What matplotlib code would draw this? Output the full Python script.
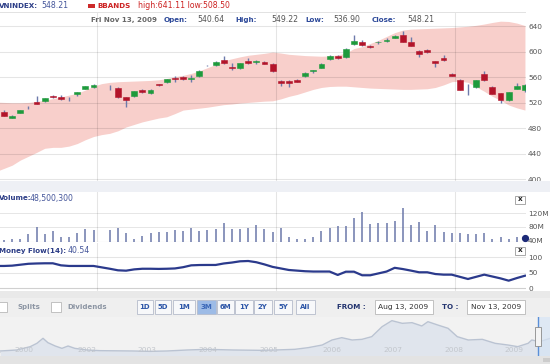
import matplotlib
matplotlib.use("Agg")
import matplotlib.pyplot as plt
import matplotlib.transforms as mtransforms
from matplotlib.patches import Rectangle
import numpy as np
import pandas as pd

W, H = 550, 364
nan = np.nan

# one weekday slot per bar, as the widget lays them out (its dates sit one day early)
slot_dates = pd.bdate_range("2009-08-13", "2009-11-12")
month_labels = ["2009", "Oct", "Nov"]

opens = [nan, 504.9, 496.5, 504.3, 511.5, 521.6, 522.2, 531.0, 529.4, 525.5, 533.2, 541.5, 544.2, nan,
         546.0, 543.1, 528.9, 530.0, 539.9, 535.2, 548.9, 552.0, 559.5, 560.3, 558.0, 561.4, 578.0, 578.7,
         586.5, 576.0, 574.0, 585.9, 584.5, 584.3, 580.7, 553.6, 553.6, 555.1, 561.4, 569.6, 574.9, 588.1,
         593.7, 591.2, 612.1, 615.7, 609.4, 614.6, 617.5, 621.5, 626.0, 614.7, 601.6, 603.1, 584.9, 590.6,
         565.5, 556.1, 541.0, 545.1, 565.0, 544.6, 534.7, 524.7, 541.5, 540.64]
highs = [nan, 508.1, 500.0, 509.0, 514.4, 530.0, 528.0, 532.0, 532.6, 528.9, 537.0, 546.5, 549.8, nan,
         548.2, 544.0, 529.5, 538.5, 541.5, 541.0, 549.5, 558.0, 562.4, 561.5, 563.9, 571.0, 579.6, 585.0,
         593.7, 582.3, 583.0, 590.1, 587.5, 585.5, 582.0, 556.1, 556.0, 556.5, 568.5, 571.3, 582.0, 595.0,
         595.0, 605.5, 625.7, 618.4, 611.0, 617.3, 621.5, 626.0, 633.0, 622.6, 602.0, 604.5, 585.5, 595.3,
         566.5, 557.0, 549.3, 556.0, 569.7, 546.0, 535.0, 537.5, 550.4, 549.22]
lows = [nan, 499.0, 495.5, 503.5, 509.6, 518.0, 521.0, 528.0, 525.0, 522.7, 531.0, 541.0, 542.6, nan,
        539.5, 528.0, 512.8, 529.5, 536.0, 534.5, 547.0, 551.0, 552.0, 556.0, 552.5, 561.0, 577.1, 578.0,
        581.0, 571.8, 573.5, 581.0, 581.2, 580.5, 569.0, 545.7, 545.0, 552.0, 560.5, 566.0, 574.0, 587.0,
        588.5, 590.5, 611.0, 609.0, 606.0, 612.0, 615.2, 621.0, 615.0, 609.0, 591.2, 597.5, 575.5, 585.5,
        562.0, 539.5, 532.6, 543.0, 554.5, 533.5, 520.0, 522.0, 541.0, 536.90]
closes = [nan, 499.6, 499.1, 508.1, 511.5, 518.4, 527.4, 528.5, 525.8, 525.5, 536.3, 545.7, 547.8, nan,
          546.0, 528.5, 524.7, 537.9, 536.8, 539.9, 547.3, 557.2, 557.5, 556.7, 559.2, 570.2, 578.0, 583.4,
          581.8, 574.4, 582.3, 581.8, 585.3, 581.2, 569.3, 551.4, 550.9, 552.9, 566.6, 570.6, 581.2, 593.7,
          589.6, 604.7, 617.3, 610.0, 606.9, 615.7, 618.5, 625.1, 615.5, 609.4, 596.9, 599.5, 581.8, 586.5,
          562.4, 539.9, 541.0, 555.1, 555.1, 534.1, 524.2, 536.8, 545.7, 548.21]
bb_upper = [521, 520.5, 520, 520, 520.5, 522, 524, 526.5, 529, 532, 535, 540, 546, 550, 552, 553, 553.5,
            554, 554.5, 555, 556, 558, 561, 563, 566, 570, 575, 580, 586, 589, 592, 594.5, 596, 597.5,
            599.5, 598, 596, 595, 594, 593.5, 593, 593.5, 595, 598, 605, 608, 613, 618, 624, 630, 634,
            635.5, 636, 636.5, 637, 637.5, 638, 639, 640, 641.5, 643.5, 646, 648, 647.5, 645, 641.1]
bb_lower = [412, 417, 422, 430, 436, 442, 448.5, 450, 450, 452, 456, 462, 467, 470, 472, 476, 482, 486,
            490, 493, 496, 498, 503, 508.5, 510, 511.5, 513, 515, 517, 518, 519.5, 520.5, 521.5, 522.5,
            523, 526, 530, 533, 537, 541, 544, 545.5, 546, 546, 545, 544, 543, 542.5, 542, 541.5, 541,
            541, 541.5, 542, 544, 548, 553, 554, 552, 545, 538, 530, 524, 516.5, 512, 508.5]
# volume in millions
volume = [nan, 42, 44, 45, 59.6, 81, 58.7, 69, 50, 51.7, 61.6, 73.3, 71.2, nan, 71.2, 78, 61.6, 45, 54.6,
          61.6, 64.5, 66.3, 71.2, 68.3, 76.2, 69, 71.2, 74.2, 90.8, 73.3, 74.2, 76.2, 85.8, 73.3, 66.3,
          76.2, 50, 44, 44, 51.7, 68.3, 76.2, 83.8, 83.8, 105.4, 122.9, 88.8, 90.8, 92.6, 97.5, 136.4,
          85.8, 93.5, 68.3, 85.8, 66.3, 61.6, 61.6, 59.6, 58.7, 61.6, 45, 50, 45, 51.7, 48.5]
money_flow = [72, 72, 73, 76, 79, 80, 80.6, 80.6, 74, 72, 72, 72, 72, nan, 63, 58, 56.8, 61, 63, 63,
              62.5, 63, 64, 68, 74, 75, 75.2, 75.2, 80, 83, 87, 88, 84, 77, 69, 64, 59, 57, 55, 54, 54,
              54, 43, 53.5, 53.5, 42, 42, 48, 54, 66, 62, 57, 51.6, 51.6, 46, 44, 44, 37, 30, 37, 44, 38,
              32, 24.6, 33, 40.54]
price_ticks = [400, 440, 480, 520, 560, 600, 640]
vol_ticks = [40, 80, 120]
vol_labels = ["40M", "80M", "120M"]
mf_ticks = [0, 50, 100]

# navigator (whole history)
nav_years = [2000.78, 2001.05, 2001.27, 2001.38, 2001.48, 2001.56, 2001.68, 2001.79, 2001.89, 2002.0,
             2002.2, 2002.41, 2002.95, 2003.23, 2003.51, 2003.84, 2004.16, 2004.59, 2005.03, 2005.28,
             2005.6, 2005.82, 2006.05, 2006.21, 2006.37, 2006.54, 2006.7, 2006.86, 2007.03, 2007.19,
             2007.36, 2007.52, 2007.68, 2007.78, 2007.94, 2008.11, 2008.26, 2008.44, 2008.67, 2008.88,
             2009.09, 2009.25, 2009.42, 2009.48, 2009.61, 2009.78]
nav_values = [167, 200, 310, 422, 589, 444, 333, 255, 333, 255, 200, 178, 167, 155, 167, 200, 222, 200,
              189, 200, 222, 278, 366, 533, 611, 533, 555, 644, 977, 1177, 1088, 1110, 1000, 1143, 1033,
              922, 644, 533, 555, 422, 366, 311, 422, 533, 477, 588]
nav_label_pos = [2001.02, 2002.05, 2003.03, 2004.03, 2005.03, 2006.06, 2007.05, 2008.05, 2009.04]
nav_labels = ["2000", "2002", "2003", "2004", "2005", "2006", "2007", "2008", "2009"]
range_buttons = ["1D", "5D", "1M", "3M", "6M", "1Y", "2Y", "5Y", "All"]

o, hi, lo, c = (np.array(a, dtype=float) for a in (opens, highs, lows, closes))
up_b, lo_b = np.array(bb_upper), np.array(bb_lower)
vol = np.array(volume, dtype=float)
mf = np.array(money_flow, dtype=float)
x = np.arange(len(slot_dates))
month_idx = [i for i in range(1, len(slot_dates)) if slot_dates[i].month != slot_dates[i - 1].month]
month_pos = [i - 0.6 for i in month_idx]
XLIM = (0.51, 65.13)

fig = plt.figure(figsize=(W / 100, H / 100), dpi=100)
fig.patch.set_facecolor("white")


def px_axes(x0, y0, x1, y1, **kw):
    ax = fig.add_axes([x0 / W, 1 - y1 / H, (x1 - x0) / W, (y1 - y0) / H], **kw)
    for s in ax.spines.values():
        s.set_visible(False)
    return ax


def px_text(xp, yp, s, **kw):
    kw.setdefault("va", "center")
    kw.setdefault("ha", "left")
    return fig.text(xp / W, 1 - yp / H, s, **kw)


def px_rect(x0, y0, x1, y1, **kw):
    kw.setdefault("lw", 0)
    fig.patches.append(Rectangle((x0 / W, 1 - y1 / H), (x1 - x0) / W, (y1 - y0) / H,
                                 transform=fig.transFigure, **kw))


NAVY = "#2b3c86"
GRID = (0, 0, 0, 0.10)
LBL = "#555555"

# header strip
px_rect(0, 12, 526, 12.7, fc="#e2e2e2")
px_text(-1, 5.5, "VNINDEX:", fontsize=5.1, fontweight="bold", color=NAVY)
px_text(41, 5.5, "548.21", fontsize=5.6, color="#44559a")
px_rect(88, 3.5, 95, 7.5, fc="#cc2a2a")
px_text(97, 5.5, "BBANDS", fontsize=5.1, fontweight="bold", color="#cc2222")
px_text(138, 5.5, "high:641.11 low:508.50", fontsize=5.6, color="#cc2222")

# price panel
axp = px_axes(0, 12.7, 526, 181)
axp.set_xlim(*XLIM)
axp.set_ylim(397.2, 661.3)
axp.fill_between(x, lo_b, up_b, color="#f8cfcb", lw=0, zorder=1)
for v in price_ticks:
    axp.axhline(v, color=GRID, lw=0.8, zorder=2)
for m in month_pos:
    axp.axvline(m, color=GRID, lw=0.8, zorder=2)
axp.vlines(x, lo, hi, color="#6d7aab", lw=1.0, zorder=3)
body = ~np.isnan(o) & (o != c)
bot = np.minimum(o, c)[body]
hgt = np.maximum(np.abs(c - o)[body], 1.4)
cols = np.where(c[body] > o[body], "#1e9b3c", "#b3142a")
axp.bar(x[body], hgt, bottom=bot, width=0.72, color=cols, edgecolor=cols, lw=0.4, zorder=4)
axp.yaxis.tick_right()
axp.set_yticks(price_ticks)
axp.tick_params(axis="y", length=0, pad=1.5, labelsize=5.3, labelcolor=LBL)
axp.set_xticks([])
for lab, xp, yp in [("Fri Nov 13, 2009", 90.7, 20), ("Open:", 164, 20), ("High:", 235.7, 20),
                    ("Low:", 305, 20), ("Close:", 371.7, 20)]:
    px_text(xp, yp, lab, fontsize=5.1, fontweight="bold",
            color="#666666" if lab.startswith("Fri") else "#2e4a9a")
for lab, xp in [("540.64", 197.7), ("549.22", 271.7), ("536.90", 333.3), ("548.21", 407.3)]:
    px_text(xp, 20, lab, fontsize=5.6, color="#555555")

# date band
px_rect(0, 181, 550, 191.5, fc="#eef0f5")
tb = mtransforms.blended_transform_factory(axp.transData, axp.transAxes)
for m, lab in zip(month_pos, month_labels):
    axp.text(m + 0.25, -0.033, lab, transform=tb, fontsize=5.4, color="#444444",
             va="center", ha="left", clip_on=False)

# volume panel
axv = px_axes(0, 192, 526, 242)
axv.set_xlim(*XLIM)
axv.set_ylim(36.2, 182)
for v in vol_ticks[1:]:
    axv.axhline(v, color=GRID, lw=0.7, zorder=1)
axv.axhline(36.6, color="#d0d0d0", lw=0.8, zorder=1)
for m in month_pos:
    axv.axvline(m, color=GRID, lw=0.8, zorder=1)
ok = ~np.isnan(vol)
axv.vlines(x[ok], 0, vol[ok], color="#6b78aa", lw=1.1, zorder=2)
axv.plot(x[-1], vol[-1], "o", color="#1d2a78", ms=4.2, zorder=3, clip_on=False)
axv.yaxis.tick_right()
axv.set_yticks(vol_ticks, vol_labels)
axv.tick_params(axis="y", length=0, pad=1.5, labelsize=5.3, labelcolor=LBL)
axv.set_xticks([])
px_text(-1, 198.3, "Volume:", fontsize=5.1, fontweight="bold", color=NAVY)
px_text(30, 198.3, "48,500,300", fontsize=5.6, color="#44559a")

# money flow panel
axm = px_axes(0, 243, 526, 291)
axm.set_xlim(*XLIM)
axm.set_ylim(-8.7, 146)
for v in mf_ticks:
    axm.axhline(v, color=GRID if v else "#d0d0d0", lw=0.8, zorder=1)
for m in month_pos:
    axm.axvline(m, color=GRID, lw=0.8, zorder=1)
ok = ~np.isnan(mf)
axm.plot(x[ok], mf[ok], color="#2b3a8c", lw=1.6, zorder=2)
axm.yaxis.tick_right()
axm.set_yticks(mf_ticks)
axm.tick_params(axis="y", length=0, pad=1.5, labelsize=5.3, labelcolor=LBL)
axm.set_xticks([])
px_text(-1, 250.7, "Money Flow(14):", fontsize=5.1, fontweight="bold", color=NAVY)
px_text(68, 250.7, "40.54", fontsize=5.6, color="#44559a")

for y0 in (195.5, 246.5):
    px_rect(515, y0, 525, y0 + 8, fc="white", ec="#9a9a9a", lw=0.6)
    px_text(520, y0 + 3.8, "x", fontsize=5.2, fontweight="bold", color="#222222", ha="center")

# controls row
px_rect(0, 291, 550, 298, fc="#e9e9e9")
px_rect(0, 298, 550, 317, fc="#efefef")
for x0 in (-3, 51):
    px_rect(x0, 302, x0 + 10, 312, fc="white", ec="#b8b8b8", lw=0.6)
px_text(17, 307, "Splits", fontsize=5.0, fontweight="bold", color="#8c95a3")
px_text(67, 307, "Dividends", fontsize=5.0, fontweight="bold", color="#8c95a3")
btn_left = [137, 154.5, 173, 196.5, 216.5, 235, 254, 273.5, 295.5]
btn_right = [152.5, 171, 194.5, 215.5, 233.5, 252.5, 271.5, 292.5, 315]
for lab, l, r in zip(range_buttons, btn_left, btn_right):
    sel = lab == "3M"
    px_rect(l, 300, r, 314, fc="#9dbbe6" if sel else "#f7f8fa", ec="#b5bccb", lw=0.6)
    px_text((l + r) / 2, 307.3, lab, fontsize=5.0, fontweight="bold",
            color="#3a67b8" if sel else "#2d56a8", ha="center")
px_text(337, 307, "FROM :", fontsize=5.1, fontweight="bold", color="#22336e")
px_rect(375, 300, 433, 314, fc="white", ec="#b8b8b8", lw=0.6)
px_text(378, 307.3, "Aug 13, 2009", fontsize=5.4, color="#333333")
px_text(442, 307, "TO :", fontsize=5.1, fontweight="bold", color="#22336e")
px_rect(467, 300, 525, 314, fc="white", ec="#b8b8b8", lw=0.6)
px_text(471, 307.3, "Nov 13, 2009", fontsize=5.4, color="#333333")

# navigator
axn = px_axes(0, 317, 550, 356, facecolor="#f2f2f2")
axn.set_xlim(2000.776, 2009.778)
axn.set_ylim(0, 1299)
axn.fill_between(nav_years, nav_values, color="#e0e5ed", lw=0, zorder=1)
axn.plot(nav_years, nav_values, color="#bac3d2", lw=1.0, zorder=2)
axn.axvspan(2009.58, 2009.778, color="#d6e4f5", alpha=0.7, lw=0, zorder=3)
axn.axvline(2009.58, color="#5a8fd8", lw=1.0, zorder=4)
axn.axhline(130, color="#d4d7dc", lw=0.8, zorder=0.5)
tn = mtransforms.blended_transform_factory(axn.transData, axn.transAxes)
for p, lab in zip(nav_label_pos, nav_labels):
    axn.text(p, 0.15, lab, transform=tn, fontsize=5.4, color="#c2c6cc", va="center", ha="left")
axn.set_xticks([])
axn.set_yticks([])
px_rect(0, 316.5, 550, 317.2, fc="#d2d2d2")
px_rect(535, 327, 541, 346, fc="#f4f4f4", ec="#8a8a8a", lw=0.6)
px_rect(0, 356, 550, 364, fc="#e3e3e3")
px_rect(543, 358, 550, 362, fc="#cccccc")

fig.savefig("out.png", dpi=100, facecolor="white")
